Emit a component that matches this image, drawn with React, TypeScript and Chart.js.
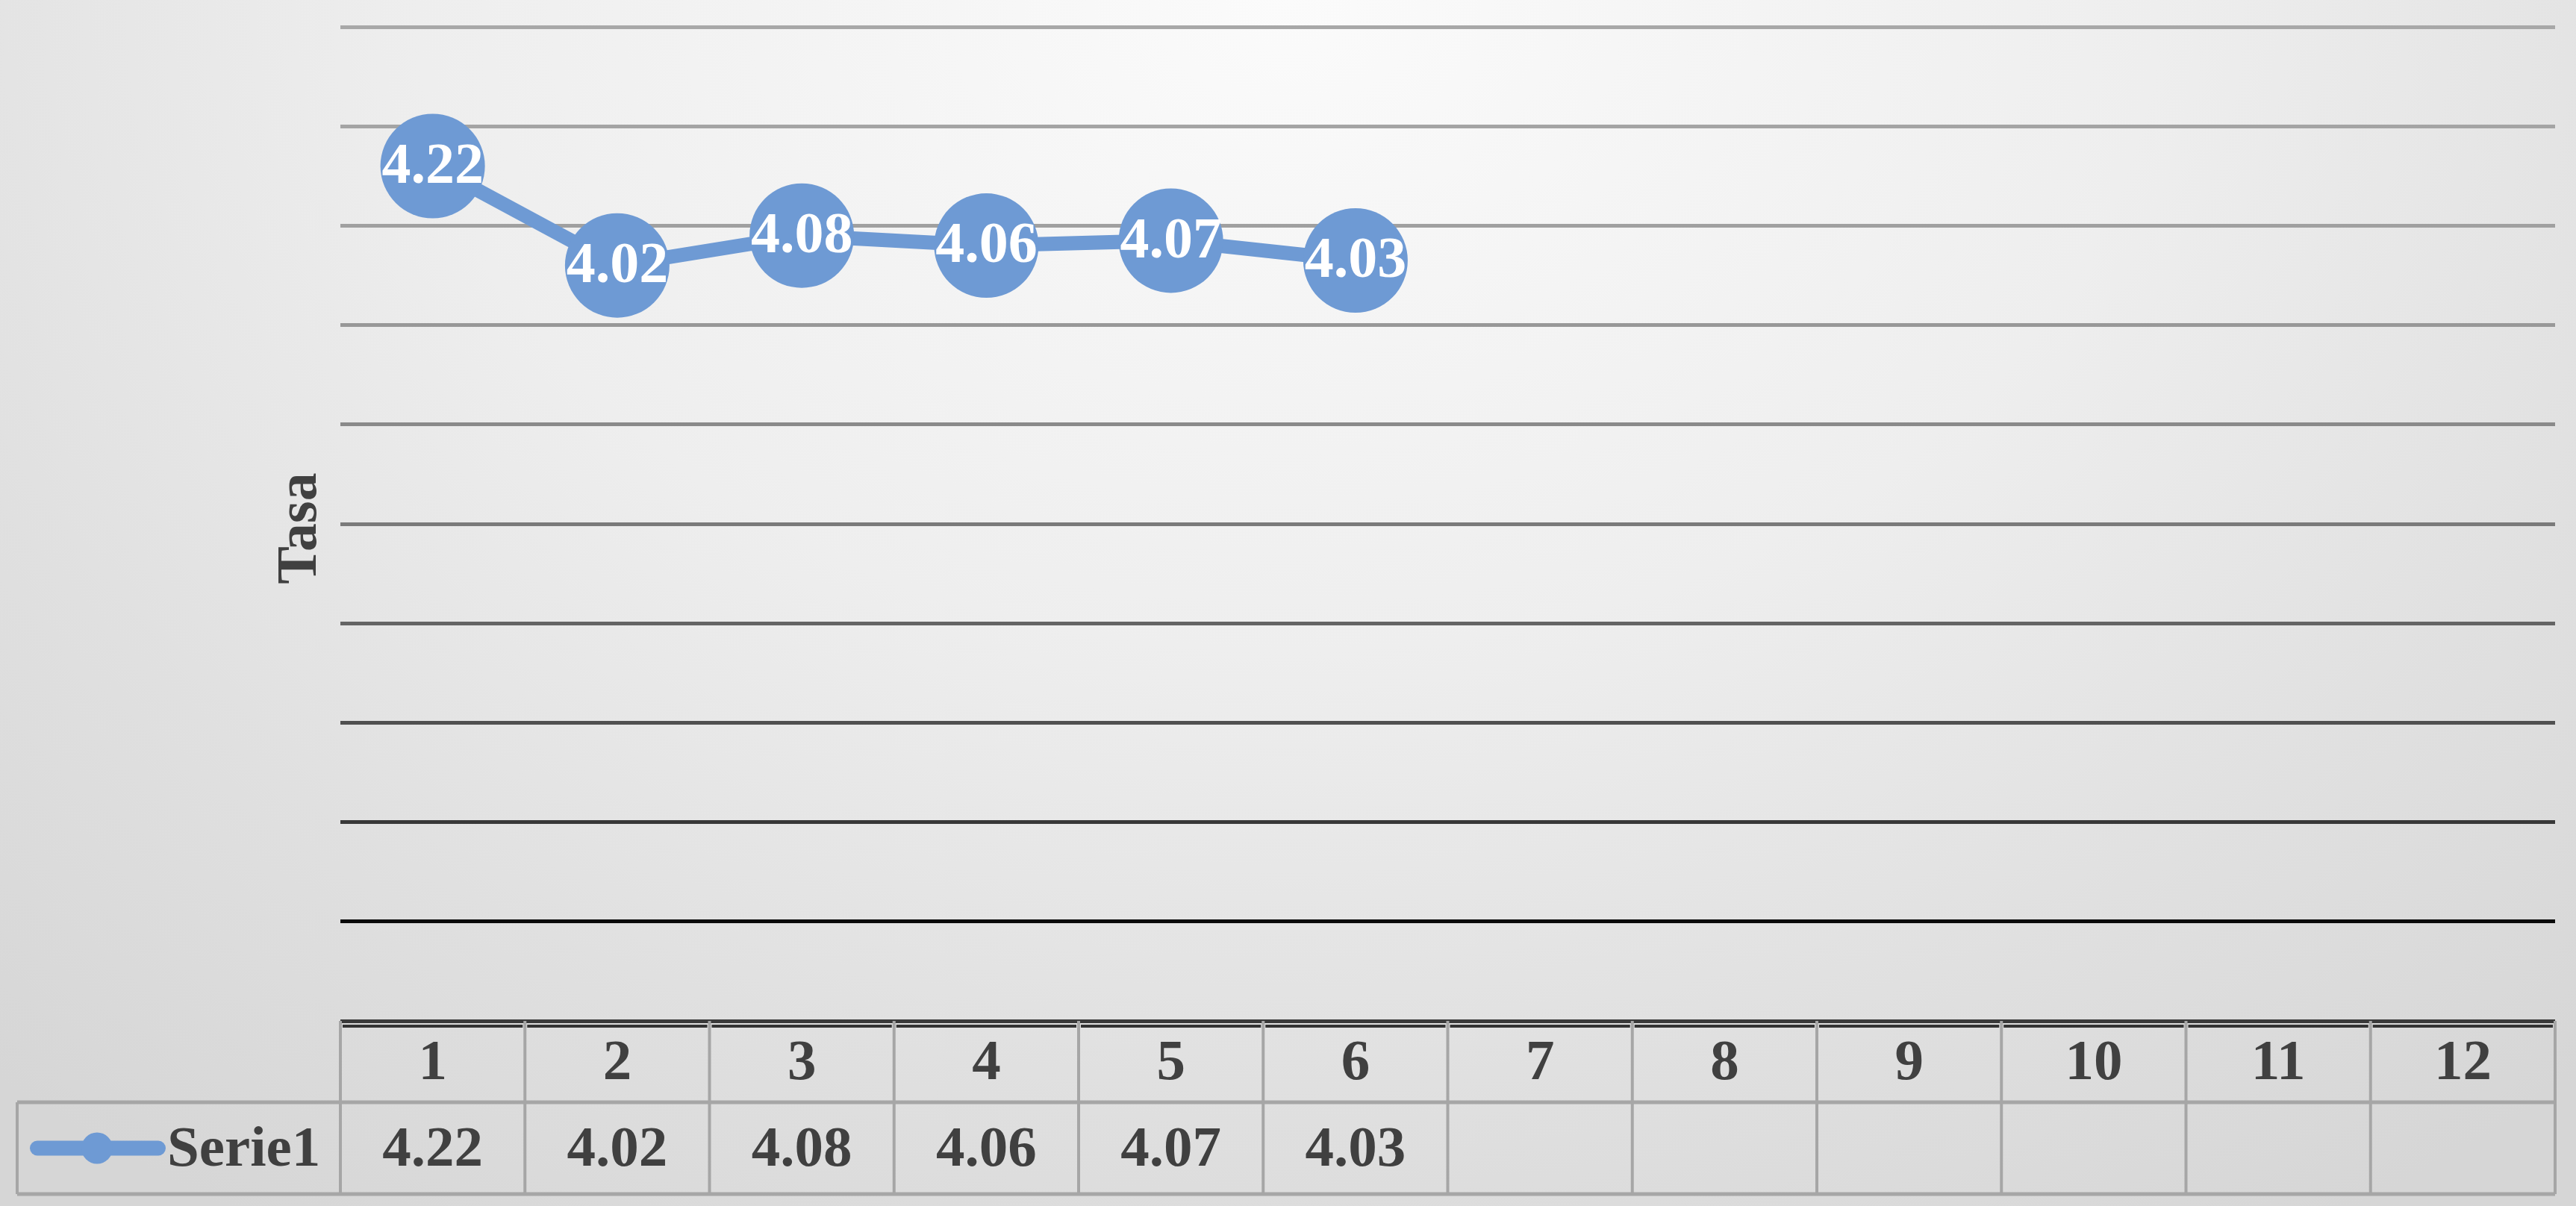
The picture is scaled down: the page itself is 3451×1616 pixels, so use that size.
import React, { useEffect, useRef } from 'react';
import { Chart, registerables } from 'chart.js';

Chart.register(...registerables);

const W = 3451;
const H = 1616;

// ---- data ----
const categories = ['1', '2', '3', '4', '5', '6', '7', '8', '9', '10', '11', '12'];
const serie1: (number | null)[] = [4.22, 4.02, 4.08, 4.06, 4.07, 4.03, null, null, null, null, null, null];
const seriesName = 'Serie1';
const yTitle = 'Tasa';
const yMin = 2.5;
const yMax = 4.5;
const yStep = 0.2;

// gridline colours, bottom (index 0) to top
const gridColors = ['#3a3a3a', '#0a0a0a', '#383838', '#505050', '#646464', '#7a7a7a', '#8a8a8a', '#989898', '#a0a0a0', '#a4a4a4', '#a8a8a8'];

const BLUE = '#6E9AD4';
const TEXT = '#404040';
const FONT = '"Liberation Serif", "Times New Roman", serif';

const labelsPlugin = {
  id: 'pointLabels',
  afterDatasetsDraw(chart: any) {
    const { ctx } = chart;
    const meta = chart.getDatasetMeta(0);
    const data = chart.data.datasets[0].data as (number | null)[];
    ctx.save();
    ctx.fillStyle = '#ffffff';
    ctx.font = `bold 78px ${FONT}`;
    ctx.textAlign = 'center';
    ctx.textBaseline = 'middle';
    meta.data.forEach((pt: any, i: number) => {
      const v = data[i];
      if (v === null || v === undefined) return;
      ctx.fillText(v.toFixed(2), pt.x, pt.y + 2);
    });
    ctx.restore();
  },
};

const tablePlugin = {
  id: 'dataTable',
  afterDraw(chart: any) {
    const { ctx, chartArea } = chart;
    const x = chart.scales.x;
    const top = chartArea.bottom;
    const mid = top + 109;
    const bot = top + 232;
    const legendLeft = 23;
    const n = categories.length;
    const edges: number[] = [];
    for (let i = 0; i <= n; i++) edges.push(x.getPixelForValue(i - 0.5));

    ctx.save();
    // cell top dark bands (double border effect)
    ctx.strokeStyle = '#333333';
    ctx.lineWidth = 4;
    for (let i = 0; i < n; i++) {
      ctx.beginPath();
      ctx.moveTo(edges[i] + 3, top + 7);
      ctx.lineTo(edges[i + 1] - 3, top + 7);
      ctx.stroke();
    }
    // horizontal gray lines
    ctx.strokeStyle = '#a6a6a6';
    ctx.lineWidth = 5;
    ctx.beginPath();
    ctx.moveTo(legendLeft, mid);
    ctx.lineTo(edges[n], mid);
    ctx.moveTo(legendLeft, bot);
    ctx.lineTo(edges[n], bot);
    ctx.stroke();
    // vertical lines
    ctx.lineWidth = 4;
    ctx.beginPath();
    for (let i = 0; i <= n; i++) {
      ctx.moveTo(edges[i], top);
      ctx.lineTo(edges[i], bot);
    }
    ctx.moveTo(legendLeft, mid);
    ctx.lineTo(legendLeft, bot);
    ctx.stroke();

    // header labels
    ctx.fillStyle = TEXT;
    ctx.font = `bold 77px ${FONT}`;
    ctx.textAlign = 'center';
    ctx.textBaseline = 'middle';
    categories.forEach((c, i) => {
      ctx.fillText(c, x.getPixelForValue(i), (top + mid) / 2 + 4);
    });
    // values
    serie1.forEach((v, i) => {
      if (v === null) return;
      ctx.fillText(v.toFixed(2), x.getPixelForValue(i), (mid + bot) / 2 + 4);
    });

    // legend key
    const ly = (mid + bot) / 2;
    ctx.strokeStyle = BLUE;
    ctx.lineWidth = 20;
    ctx.lineCap = 'round';
    ctx.beginPath();
    ctx.moveTo(50, ly);
    ctx.lineTo(212, ly);
    ctx.stroke();
    ctx.fillStyle = BLUE;
    ctx.beginPath();
    ctx.arc(130, ly, 21, 0, Math.PI * 2);
    ctx.fill();
    ctx.fillStyle = TEXT;
    ctx.textAlign = 'left';
    ctx.fillText(seriesName, 224, ly + 4);

    // y axis title
    ctx.save();
    ctx.translate(403, (chartArea.top + chartArea.bottom) / 2 + 6);
    ctx.rotate(-Math.PI / 2);
    ctx.textAlign = 'center';
    ctx.textBaseline = 'middle';
    ctx.font = `bold 76px ${FONT}`;
    ctx.fillText(yTitle, 0, 0);
    ctx.restore();

    ctx.restore();
  },
};

export default function App() {
  const ref = useRef<HTMLCanvasElement>(null);
  useEffect(() => {
    document.body.style.margin = '0';
    document.body.style.overflow = 'hidden';
    const canvas = ref.current!;
    const chart = new Chart(canvas, {
      type: 'line',
      data: {
        labels: categories,
        datasets: [
          {
            label: seriesName,
            data: serie1,
            borderColor: BLUE,
            backgroundColor: BLUE,
            borderWidth: 19,
            pointRadius: 70,
            pointHoverRadius: 70,
            pointBackgroundColor: BLUE,
            pointBorderWidth: 0,
            tension: 0,
            clip: false,
          } as any,
        ],
      },
      options: {
        responsive: false,
        animation: false,
        events: [],
        layout: { autoPadding: false, padding: { left: 456, right: 28, top: 36, bottom: 248 } },
        plugins: {
          legend: { display: false },
          tooltip: { enabled: false },
          title: { display: false },
        },
        scales: {
          x: {
            type: 'category',
            display: false,
            offset: true,
          },
          y: {
            type: 'linear',
            min: yMin,
            max: yMax,
            ticks: { display: false, stepSize: yStep },
            border: { display: false },
            grid: {
              drawTicks: false,
              lineWidth: 5,
              color: (c: any) => gridColors[c.index] ?? '#999999',
            },
            afterFit: (scale: any) => {
              scale.width = 0;
            },
          },
        },
      },
      plugins: [labelsPlugin, tablePlugin],
    });
    return () => chart.destroy();
  }, []);

  return (
    <div
      style={{
        width: W,
        height: H,
        overflow: 'hidden',
        background:
          'radial-gradient(ellipse 75% 120% at 50% 0%, #fbfbfb 0%, #eeeeee 45%, #e0e0e0 75%, #d6d6d6 100%)',
      }}
    >
      <canvas ref={ref} width={W} height={H} style={{ display: 'block', width: W, height: H }} />
    </div>
  );
}
